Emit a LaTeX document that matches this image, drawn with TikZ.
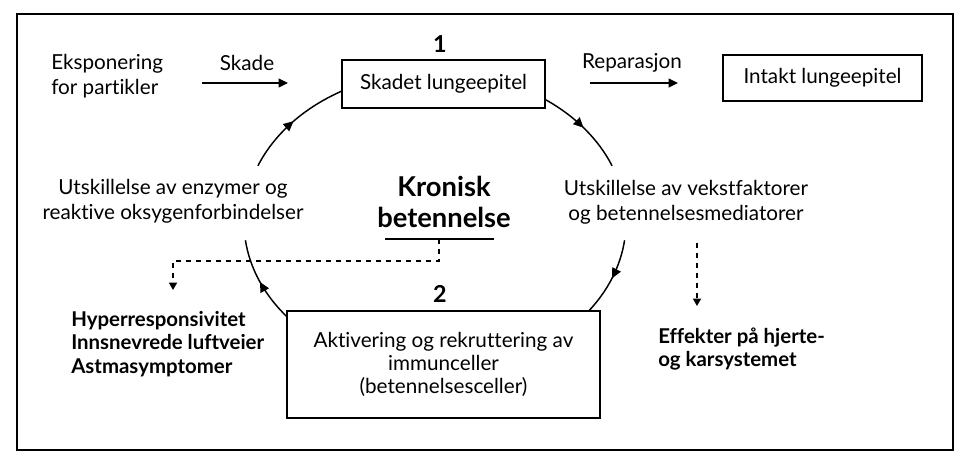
\documentclass[tikz,border=0pt]{standalone}
\usepackage{fontspec}
\setmainfont[Ligatures=NoCommon]{Lato}
\usetikzlibrary{arrows.meta,decorations.markings,calc}
\begin{document}
\begin{tikzpicture}[x=0.75pt,y=-0.75pt,
  txt/.style={font=\fontsize{15.5}{18.75}\selectfont, inner sep=0pt},
  boldtxt/.style={font=\fontsize{15.3}{17.4}\selectfont\bfseries, inner sep=0pt, align=left},
  num/.style={font=\fontsize{17.5}{18}\selectfont\bfseries, inner sep=0pt},
  boxst/.style={draw, line width=1.1pt, inner sep=0pt, font=\fontsize{15.5}{17.25}\selectfont},
  arr/.style={line width=1.1pt, -{Triangle[length=7pt,width=6.5pt]}},
  darr/.style={line width=1.1pt, dash pattern=on 4pt off 3.5pt, -{Triangle[length=5.5pt,width=6pt]}},
  cyc/.style={line width=1.1pt, postaction={decorate},
    decoration={markings, mark=at position 0.5 with {\arrow{Triangle[length=7.5pt,width=7pt]}}}},
  ell/.style={x radius=143.25pt, y radius=112.5pt},
]
\useasboundingbox (0,0) rectangle (970,466);
\draw[line width=1.5pt] (17,14) rectangle (953,450);

% nodes
\node[txt, align=left, anchor=west] (eksp) at (51,76) {Eksponering\\for partikler};
\node[txt] (skade) at (247,63) {Skade};
\node[boxst, minimum width=152.25pt, minimum height=36pt] (b1) at (443.5,84) {Skadet lungeepitel};
\node[num] (n1) at (440,44) {1};
\node[txt] (rep) at (632,63) {Reparasjon};
\node[boxst, minimum width=149.25pt, minimum height=34.5pt] (b3) at (822.5,78) {Intakt lungeepitel};
\node[txt, align=center] (lt) at (173,201) {Utskillelse av enzymer og\\reaktive oksygenforbindelser};
\node[txt, align=center] (rt) at (686,202) {Utskillelse av vekstfaktorer\\og betennelsesmediatorer};
\node[font=\fontsize{20.5}{23.25}\selectfont\bfseries, inner sep=0pt, align=center] (kron) at (444,202) {Kronisk\\betennelse};
\node[num] (n2) at (440,294) {2};
\node[boxst, minimum width=234.75pt, minimum height=80.25pt, align=center] (b2) at (443.5,364.5)
  {Aktivering og rekruttering av\\immunceller\\(betennelsesceller)};
\node[boldtxt, anchor=west] (hyp) at (71,344) {Hyperresponsivitet\\Innsnevrede luftveier\\Astmasymptomer};
\node[boldtxt, anchor=west] (eff) at (658,349) {Effekter på hjerte-\\og karsystemet};

% straight arrows
\coordinate (s1) at (202,83); \coordinate (s2) at (288,83);
\draw[arr] (s1) -- (s2);
\coordinate (r1) at (590,83); \coordinate (r2) at (678,83);
\draw[arr] (r1) -- (r2);

% cycle arcs (ellipse centred at c)
\coordinate (c) at (435,222);
\draw[cyc] ([shift={(158:143.25pt and 112.5pt)}]c) arc[ell, start angle=158, end angle=119.1];
\draw[cyc] ([shift={(54.8:143.25pt and 112.5pt)}]c) arc[ell, start angle=54.8, end angle=22];
\draw[cyc] ([shift={(-7:143.25pt and 112.5pt)}]c) arc[ell, start angle=-7, end angle=-36.4];
\draw[cyc] ([shift={(219.2:143.25pt and 112.5pt)}]c) arc[ell, start angle=219.2, end angle=187];

% underline and dashed connectors
\coordinate (ul) at (385,239); \coordinate (ur) at (494,239);
\draw[line width=1.1pt] (ul) -- (ur);
\coordinate (d0) at (439,239); \coordinate (d1) at (439,261); \coordinate (d2) at (173,261); \coordinate (d3) at (173,290);
\draw[darr] (d0) -- (d1) -- (d2) -- (d3);
\coordinate (e0) at (697,243); \coordinate (e1) at (697,306);
\draw[darr] (e0) -- (e1);
\end{tikzpicture}
\end{document}
